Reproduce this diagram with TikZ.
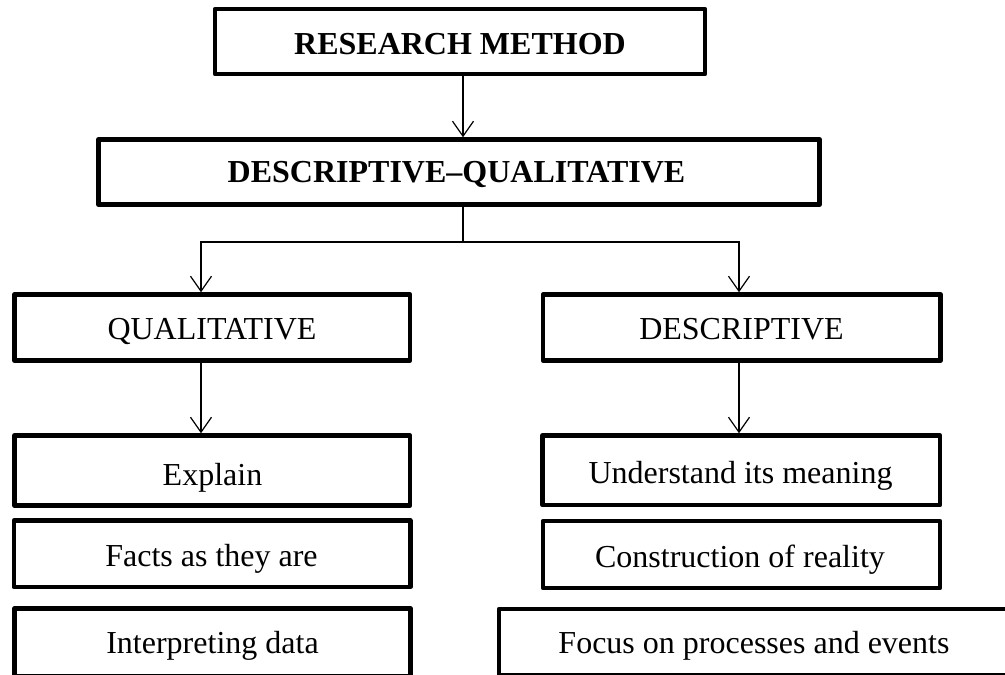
\documentclass[tikz,border=0pt]{standalone}
\usepackage{fontspec}
\setmainfont{Liberation Serif}
\usetikzlibrary{arrows.meta}
\begin{document}
\begin{tikzpicture}[x=1pt,y=-1pt,
  box/.style={draw, line width=4.5pt, line join=round, inner sep=0pt},
  txt/.style={anchor=base, inner sep=0pt, font=\fontsize{32}{38}\selectfont},
  btxt/.style={txt, font=\fontsize{32}{38}\selectfont\bfseries},
  conn/.style={line width=1.2pt},
  arr/.style={conn, -{Straight Barb[length=15pt,width=21pt,line width=1.2pt]}}]
\useasboundingbox (0,0) rectangle (1005,675);
% boxes
\node[box, minimum width=490pt, minimum height=65pt] (rm) at (460,41.5) {};
\node[box, minimum width=721pt, minimum height=65pt] (dq) at (459,172) {};
\node[box, minimum width=395.5pt, minimum height=66pt] (qual) at (212.25,327.5) {};
\node[box, minimum width=397.5pt, minimum height=66pt] (desc) at (741.75,327.5) {};
\node[box, minimum width=395.5pt, minimum height=70pt] (expl) at (212.25,470.5) {};
\node[box, minimum width=396.5pt, minimum height=66.5pt] (fact) at (212,553.75) {};
\node[box, minimum width=396pt, minimum height=67.5pt] (intp) at (212.5,642.25) {};
\node[box, minimum width=397.5pt, minimum height=69.5pt] (und) at (741.25,470.25) {};
\node[box, minimum width=397pt, minimum height=67pt] (cons) at (741.5,554.5) {};
\node[box, minimum width=511pt, minimum height=66pt] (focus) at (754.5,642) {};
% texts
\node[btxt] (rmt) at (460,54) {RESEARCH METHOD};
\node[btxt] (dqt) at (456.5,182) {DESCRIPTIVE–QUALITATIVE};
\node[txt] (qualt) at (212,339) {QUALITATIVE};
\node[txt] (desct) at (741.5,339) {DESCRIPTIVE};
\node[txt] (explt) at (212.5,485) {Explain};
\node[txt] (factt) at (211.5,566) {Facts as they are};
\node[txt] (intpt) at (212.5,653) {Interpreting data};
\node[txt] (undt) at (740.5,483) {Understand its meaning};
\node[txt] (const) at (740,567.5) {Construction of reality};
\node[txt] (focust) at (754,653) {Focus on processes and events};
% connectors
\coordinate (jt) at (463,242);
\coordinate (jl) at (201,242);
\coordinate (jr) at (739,242);
\draw[arr] (rm.south -| jt) -- (dq.north -| jt);
\draw[conn] (dq.south -| jt) -- (jt);
\draw[arr] (jt) -- (jl) -- (qual.north -| jl);
\draw[arr] (jt) -- (jr) -- (desc.north -| jr);
\draw[arr] (qual.south -| jl) -- (expl.north -| jl);
\draw[arr] (desc.south -| jr) -- (und.north -| jr);
\end{tikzpicture}
\end{document}
